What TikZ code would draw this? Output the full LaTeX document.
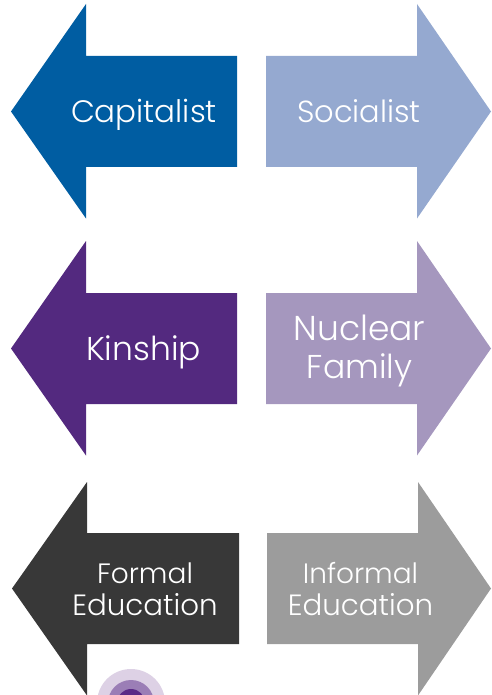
\documentclass[tikz,border=0pt]{standalone}
\usepackage{fontspec}
\setmainfont{Poppins}[UprightFont=* Light]
\definecolor{cblue}{HTML}{005DA2}
\definecolor{lblue}{HTML}{95A9D0}
\definecolor{cpurple}{HTML}{53297F}
\definecolor{lpurple}{HTML}{A597BE}
\definecolor{cdark}{HTML}{383838}
\definecolor{lgray}{HTML}{9C9C9C}
\definecolor{dotA}{HTML}{DDD1E5}
\definecolor{dotB}{HTML}{9B7EB6}
\definecolor{dotC}{HTML}{5A2A86}
\newcommand{\fsz}[1]{\fontsize{#1}{#1}\selectfont}
\tikzset{x=1pt,y=-1pt,
 lab/.style={text=white,align=center,inner sep=0pt},
 big/.style={lab,font=\fontsize{31}{38}\selectfont},
 small/.style={lab,font=\fontsize{28}{32}\selectfont}}
\newcommand{\larrow}[6]{\fill[#6] (#1,#3) -- (#2,#4) -- (#2,#3-55.5) -- (#5,#3-55.5) -- (#5,#3+55.5) -- (#2,#3+55.5) -- (#2,#3+107) -- cycle;}
\newcommand{\rarrow}[6]{\fill[#6] (#1,#3) -- (#2,#4) -- (#2,#3-55.5) -- (#5,#3-55.5) -- (#5,#3+55.5) -- (#2,#3+55.5) -- (#2,#3+107) -- cycle;}
\begin{document}
\begin{tikzpicture}
\useasboundingbox (0,0) rectangle (491,695);
\begin{scope}
\clip (0,0) rectangle (491,695);
\larrow{11}{86}{111.5}{4}{237}{cblue}
\rarrow{491}{417}{111.5}{4}{266}{lblue}
\larrow{11}{86}{348.5}{241}{237}{cpurple}
\rarrow{491}{417}{348.5}{241}{266}{lpurple}
\larrow{12}{87}{588.5}{482}{239}{cdark}
\rarrow{491}{418}{588.5}{482}{267}{lgray}
\fill[dotA] (131,703) circle (34);
\fill[dotB] (131,703) circle (23);
\fill[dotC] (131,703) circle (14);
\end{scope}
\node[big,anchor=base] (cap) at (144,123) {Capitalist};
\node[big,anchor=base] (soc) at (359,123) {\fsz{30.5}Socialist};
\node[big,anchor=base] (kin) at (143.5,360) {\fsz{33}Kinship};
\node[big] (nuc) at (359.5,351) {\fsz{34.5}Nuclear\\\fsz{33}Family};
\node[small] (for) at (145,589) {Formal\\\fsz{29.3}Education};
\node[small] (inf) at (360.5,589) {Informal\\\fsz{29.3}Education};
\end{tikzpicture}
\end{document}
